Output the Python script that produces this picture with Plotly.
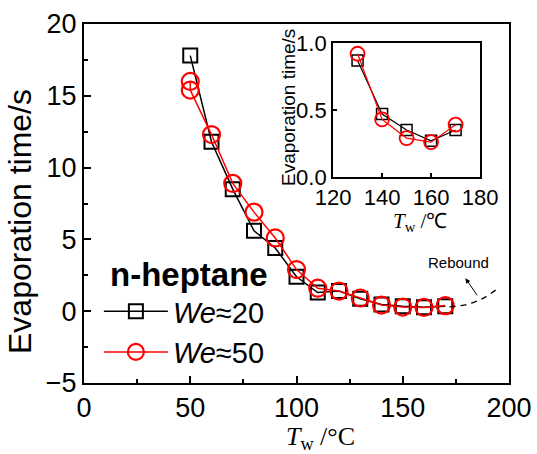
import plotly.graph_objects as go

# Data (We≈20, black squares)
x20 = [50, 60, 70, 80, 90, 100, 110, 120, 130, 140, 150, 160, 170]
y20 = [17.8, 11.8, 8.5, 5.6, 4.4, 2.4, 1.3, 1.4, 0.87, 0.47, 0.35, 0.27, 0.35]
# Data (We≈50, red circles)
x50 = [50, 50, 60, 70, 80, 90, 100, 110, 120, 130, 140, 150, 160, 170]
y50 = [16.0, 15.4, 12.3, 8.9, 6.9, 5.1, 2.9, 1.6, 1.4, 0.92, 0.43, 0.29, 0.26, 0.39]
# Rebound guide (dashed)
xreb = [172, 178, 184, 189, 194]
yreb = [0.3, 0.4, 0.65, 1.0, 1.5]

inset_min = 130
ix20 = [x for x in x20 if x >= inset_min]
iy20 = [y for x, y in zip(x20, y20) if x >= inset_min]
ix50 = [x for x in x50 if x >= inset_min]
iy50 = [y for x, y in zip(x50, y50) if x >= inset_min]

SANS = "Liberation Sans, Arial, sans-serif"
SERIF = "Liberation Serif, Times New Roman, serif"
RED = "#ff0000"

fig = go.Figure()

fig.add_trace(go.Scatter(
    x=x20, y=y20, mode="lines+markers", name="<i>We</i>≈20",
    line=dict(color="black", width=1.5),
    marker=dict(symbol="square-open", size=14, color="black", line=dict(width=2)),
))
fig.add_trace(go.Scatter(
    x=x50, y=y50, mode="lines+markers", name="<i>We</i>≈50",
    line=dict(color=RED, width=1.5),
    marker=dict(symbol="circle-open", size=17, color=RED, line=dict(width=2.2)),
))
fig.add_trace(go.Scatter(
    x=xreb, y=yreb, mode="lines", showlegend=False,
    line=dict(color="black", width=1.3, dash="6px,5px", shape="spline"),
))

# Inset
fig.add_trace(go.Scatter(
    x=ix20, y=iy20, mode="lines+markers", showlegend=False, xaxis="x2", yaxis="y2",
    line=dict(color="black", width=1.2),
    marker=dict(symbol="square-open", size=11, color="black", line=dict(width=1.5)),
))
fig.add_trace(go.Scatter(
    x=ix50, y=iy50, mode="lines+markers", showlegend=False, xaxis="x2", yaxis="y2",
    line=dict(color=RED, width=1.2),
    marker=dict(symbol="circle-open", size=14, color=RED, line=dict(width=1.8)),
))

axis_common = dict(showgrid=False, zeroline=False, showline=True, linecolor="black",
                   mirror=True, ticks="inside", tickcolor="black", automargin=False)

fig.update_layout(
    width=537, height=454,
    margin=dict(l=84, r=28, t=24, b=71),
    paper_bgcolor="white", plot_bgcolor="white",
    font=dict(family=SANS, color="black"),
    xaxis=dict(**axis_common, range=[0, 200], dtick=50, linewidth=2, ticklen=7, tickwidth=2,
               minor=dict(ticks="inside", dtick=25, ticklen=4, tickcolor="black", tickwidth=1.5),
               tickfont=dict(size=27, family=SANS)),
    yaxis=dict(**axis_common, range=[-5, 20], dtick=5, linewidth=2, ticklen=7, tickwidth=2,
               minor=dict(ticks="inside", dtick=2.5, ticklen=4, tickcolor="black", tickwidth=1.5),
               tickfont=dict(size=27, family=SANS)),
    xaxis2=dict(**axis_common, domain=[0.586, 0.932], anchor="y2", range=[120, 180], dtick=20,
                linewidth=2, ticklen=4, tickwidth=1.5,
                tickfont=dict(size=22, family=SANS)),
    yaxis2=dict(**axis_common, domain=[0.574, 0.947], anchor="x2", range=[0, 1], dtick=0.5,
                tickformat=".1f", linewidth=2, ticklen=4, tickwidth=1.5,
                tickfont=dict(size=22, family=SANS)),
    legend=dict(x=0.035, y=0.39, xanchor="left", yanchor="top", bgcolor="rgba(0,0,0,0)",
                title=dict(text="<b>&nbsp;n-heptane</b>", font=dict(size=33, family=SANS)),
                font=dict(size=29, family=SANS), itemwidth=64, tracegroupgap=0),
    annotations=[
        dict(x=179.5, y=2.3, ax=185.5, ay=1.0, xref="x", yref="y", axref="x", ayref="y",
             text="", showarrow=True, arrowhead=2, arrowsize=1, arrowwidth=1, arrowcolor="black"),
        dict(x=176, y=3.4, xref="x", yref="y", text="Rebound", showarrow=False,
             font=dict(size=15, family=SANS)),
        # main axis titles
        dict(x=320, y=438, xref="paper", yref="paper", text="<i>T</i><sub>w</sub> /°C",
             showarrow=False, font=dict(size=26, family=SERIF)),
        dict(x=20, y=222, xref="paper", yref="paper", text="Evaporation time/s",
             textangle=-90, showarrow=False, font=dict(size=32, family=SANS)),
        # inset axis titles
        dict(x=288, y=108, xref="paper", yref="paper", text="Evaporation time/s",
             textangle=-90, showarrow=False, font=dict(size=19, family=SANS)),
        dict(x=420, y=222, xref="paper", yref="paper", text="<i>T</i><sub>w</sub> /℃",
             showarrow=False, font=dict(size=21, family=SERIF)),
    ],
)

# convert pixel positions of the title annotations into paper fractions
L, R, T, B = 84, 537 - 28, 24, 454 - 71
for a in fig.layout.annotations[2:]:
    a.x = (a.x - L) / (R - L)
    a.y = (B - a.y) / (B - T)
    a.xanchor = "center"
    a.yanchor = "middle"

fig.write_html("out.html")
